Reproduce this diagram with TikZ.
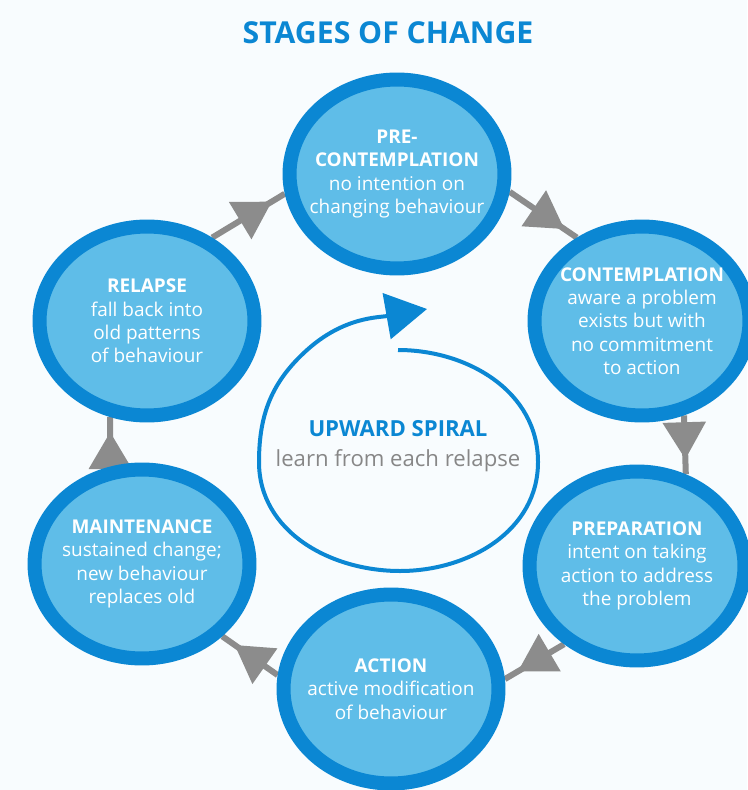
\documentclass[tikz,border=0pt]{standalone}
\usepackage{fontspec}
\setmainfont{Open Sans}
\usetikzlibrary{shapes.geometric}
\usetikzlibrary{arrows.meta}
\usetikzlibrary{decorations.markings}
\usetikzlibrary{backgrounds}
\definecolor{ringblue}{RGB}{11,135,211}
\definecolor{fillblue}{RGB}{95,189,232}
\definecolor{arrowgray}{RGB}{140,140,140}
\definecolor{textgray}{RGB}{135,135,135}
\definecolor{pagebg}{RGB}{248,252,254}
\tikzset{
        stage/.style={ellipse,draw=ringblue,fill=fillblue,line width=0.28cm,minimum width=4.3cm,minimum height=3.78cm,inner sep=0pt},
        stagetext/.style={text=white,align=center,font=\fontsize{10.8}{13.3}\selectfont},
        flow/.style={arrowgray,line width=0.12cm,decoration={markings,mark=at position -0.3cm with {\arrow{Triangle[length=0.74cm,width=0.84cm]}}},postaction={decorate}},
        spiralline/.style={ringblue,line width=0.08cm}
}

\begin{document}
\begin{tikzpicture}[x=0.02cm,y=-0.02cm]
        \useasboundingbox (0,0) rectangle (747,790);
        \node[ringblue,font=\bfseries\fontsize{17.2}{20}\selectfont] (title) at (388,33) {STAGES OF CHANGE};
        % the six stages
        \node[stage,label={[stagetext]center:{\textbf{PRE-}\\\textbf{CONTEMPLATION}\\no intention on\\changing behaviour}}] (pre) at (397,174) {};
        \node[stage,label={[stagetext]center:{\textbf{CONTEMPLATION}\\aware a problem\\exists but with\\no commitment\\to action}}] (cont) at (642,321) {};
        \node[stage,label={[stagetext]center:{\textbf{PREPARATION}\\intent on taking\\action to address\\the problem}}] (prep) at (637,566) {};
        \node[stage,label={[stagetext]center:{\textbf{ACTION}\\active modification\\of behaviour}}] (action) at (391,689) {};
        \node[stage,label={[stagetext]center:{\textbf{MAINTENANCE}\\sustained change;\\new behaviour\\replaces old}}] (maint) at (142,564) {};
        \node[stage,label={[stagetext]center:{\textbf{RELAPSE}\\fall back into\\old patterns\\of behaviour}}] (relapse) at (147,321) {};
        % spiral in the middle
        \node[align=center,font=\fontsize{12.6}{16.8}\selectfont] (spiral) at (398,446) {{\color{ringblue}\bfseries UPWARD SPIRAL}\\{\color{textgray}learn from each relapse}};
        \draw[spiralline,-{Triangle[length=0.82cm,width=0.92cm]}] (398,350) to[out=0,in=90] (538,462) to[out=-90,in=0] (400,571) to[out=180,in=-90] (259,462) to[out=90,in=222] (307,350) to[out=42,in=190] (427,309);
        \begin{scope}[on background layer]
        \fill[pagebg] (0,0) rectangle (747,790);
        \draw[flow] (pre.-9) -- (cont.128);
        \draw[flow] (cont.-66) -- (prep.62);
        \draw[flow] (prep.-133) -- (action.5);
        \draw[flow] (action.173) -- (maint.-42);
        \draw[flow] (maint.108) -- (relapse.-111);
        \draw[flow] (relapse.52) -- (pre.-170);
        \end{scope}
\end{tikzpicture}
\end{document}
